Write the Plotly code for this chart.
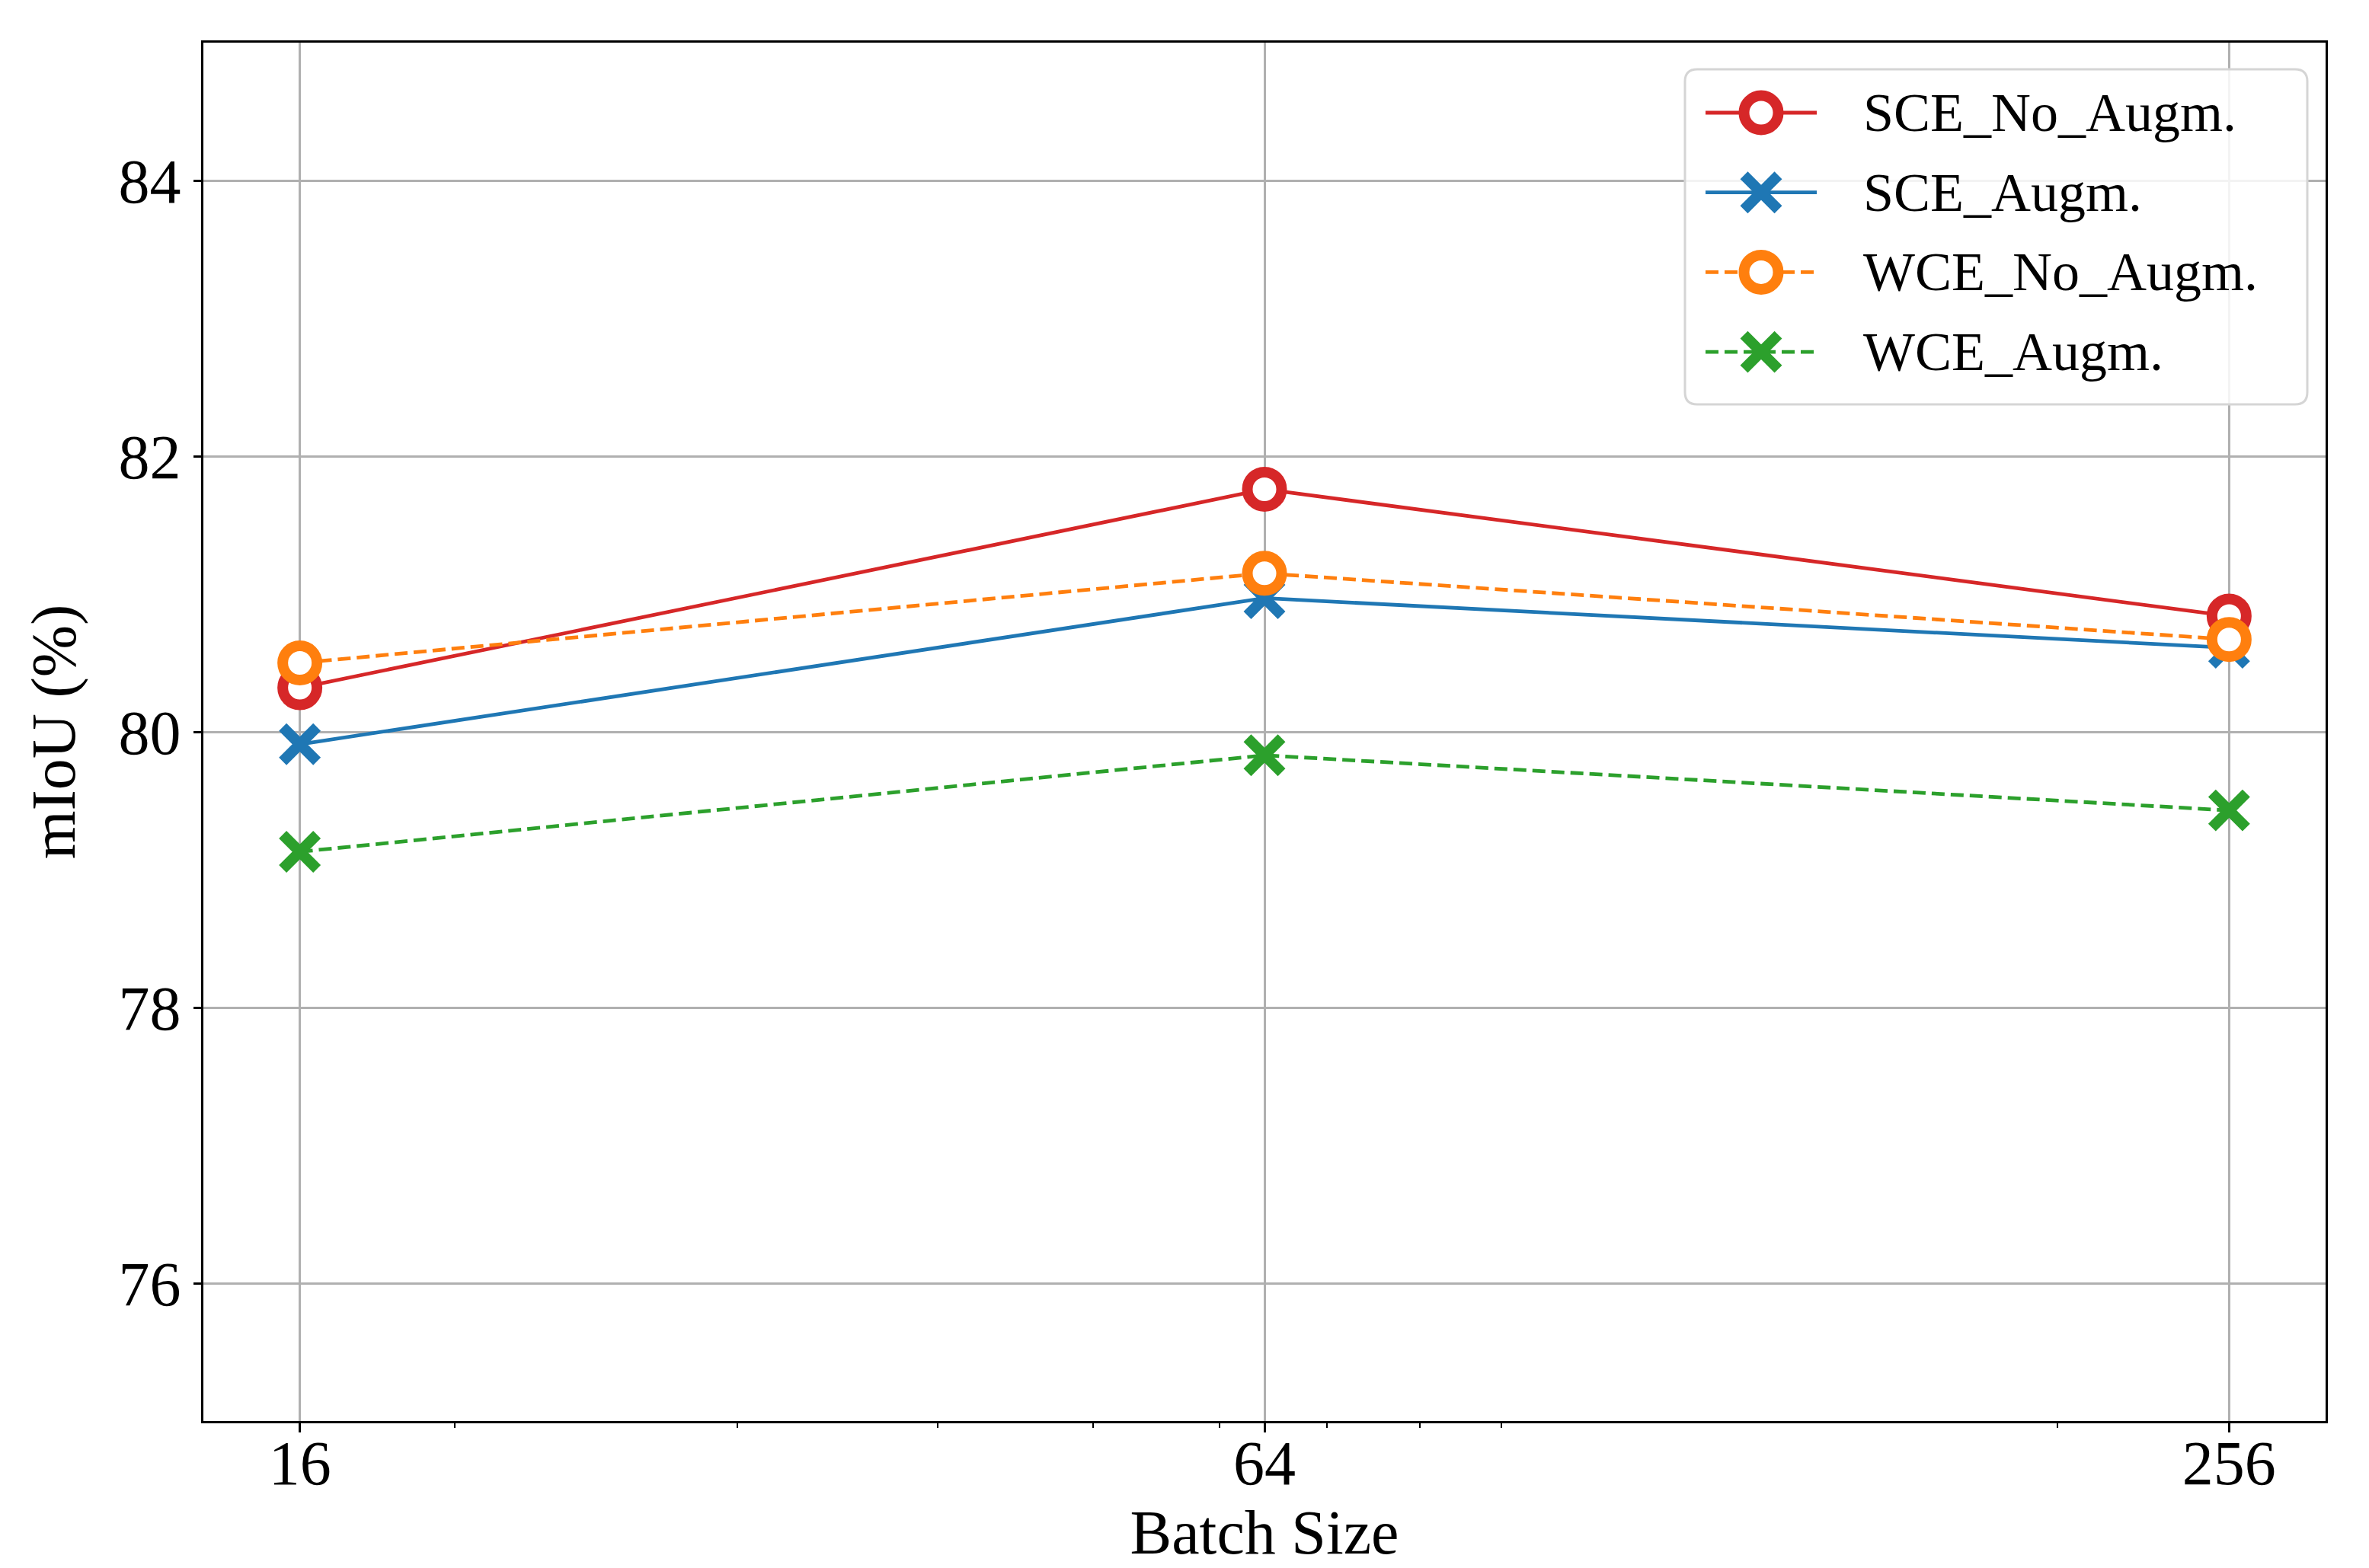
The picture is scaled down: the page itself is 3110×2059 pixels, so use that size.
import math
import plotly.graph_objects as go

# ---------------- data ----------------
batch_sizes = [16, 64, 256]
x_tick_labels = ["16", "64", "256"]
x_minor_ticks = [20, 30, 40, 50, 60, 70, 80, 90, 200]
y_tick_values = [76, 78, 80, 82, 84]

series_names = ["SCE_No_Augm.", "SCE_Augm.", "WCE_No_Augm.", "WCE_Augm."]
sce_no_augm = [80.32, 81.76, 80.84]
sce_augm = [79.91, 80.97, 80.61]
wce_no_augm = [80.50, 81.15, 80.67]
wce_augm = [79.13, 79.83, 79.43]
series_values = [sce_no_augm, sce_augm, wce_no_augm, wce_augm]

colors = ["#d62728", "#1f77b4", "#ff7f0e", "#2ca02c"]
marker_kinds = ["circle", "x", "circle", "x"]
dashes = ["solid", "solid", "17px,8px", "17px,8px"]

# ---------------- layout constants ----------------
W, H = 3110, 2059
L, R, T, B = 259, 65, 48, 201
PW, PH = W - L - R, H - T - B
FONT = "Liberation Serif, Times New Roman, serif"
MS = 45      # marker size
MLW = 14     # marker edge width
LW = 4.8     # line width


def px_x(px):
    return (px - L) / PW


def px_y(py):
    return (H - B - py) / PH


fig = go.Figure()

for name, vals, c, mk, d in zip(series_names, series_values, colors, marker_kinds, dashes):
    if mk == "circle":
        marker = dict(symbol="circle", size=MS, color="white",
                      line=dict(color=c, width=MLW))
    else:
        marker = dict(symbol="x-thin", size=MS, color=c,
                      line=dict(color=c, width=MLW))
    fig.add_trace(go.Scatter(
        x=batch_sizes, y=vals, name=name, mode="lines+markers",
        line=dict(color=c, width=LW, dash=d),
        marker=marker, showlegend=False,
    ))

# ---------------- custom legend (layout decoration) ----------------
shapes = []
annotations = []
box_l, box_r, box_t, box_b = 2204, 3021, 83, 523
bw, bh, rr = (box_r - box_l) / 2, (box_b - box_t) / 2, 16
box_path = (f"M{-bw + rr},{-bh} H{bw - rr} Q{bw},{-bh} {bw},{-bh + rr} "
            f"V{bh - rr} Q{bw},{bh} {bw - rr},{bh} H{-bw + rr} "
            f"Q{-bw},{bh} {-bw},{bh - rr} V{-bh + rr} Q{-bw},{-bh} {-bw + rr},{-bh} Z")
shapes.append(dict(
    type="path", xref="paper", yref="paper", xsizemode="pixel", ysizemode="pixel",
    xanchor=px_x((box_l + box_r) / 2), yanchor=px_y((box_t + box_b) / 2),
    path=box_path, line=dict(color="#d5d5d5", width=3),
    fillcolor="rgba(255,255,255,0.85)", layer="above",
))

entry_y0, entry_step = 140, 104.7
line_x0, line_x1 = 2231, 2377
text_x = 2436
half = MS / 2
for i, (name, c, mk, d) in enumerate(zip(series_names, colors, marker_kinds, dashes)):
    yy = px_y(entry_y0 + i * entry_step)
    shapes.append(dict(type="line", xref="paper", yref="paper",
                       x0=px_x(line_x0), x1=px_x(line_x1), y0=yy, y1=yy,
                       line=dict(color=c, width=LW, dash=d), layer="above"))
    xc = px_x((line_x0 + line_x1) / 2)
    if mk == "circle":
        shapes.append(dict(type="circle", xref="paper", yref="paper",
                           xsizemode="pixel", ysizemode="pixel", xanchor=xc, yanchor=yy,
                           x0=-half, x1=half, y0=-half, y1=half,
                           line=dict(color=c, width=MLW), fillcolor="white", layer="above"))
    else:
        shapes.append(dict(type="path", xref="paper", yref="paper",
                           xsizemode="pixel", ysizemode="pixel", xanchor=xc, yanchor=yy,
                           path=f"M{-half},{-half} L{half},{half} M{-half},{half} L{half},{-half}",
                           line=dict(color=c, width=MLW), layer="above"))
    annotations.append(dict(text=name, xref="paper", yref="paper", x=px_x(text_x), y=yy,
                            xanchor="left", yanchor="middle", showarrow=False,
                            font=dict(family=FONT, size=72, color="black")))

xr = [math.log10(2 ** 3.8), math.log10(2 ** 8.2)]

fig.update_layout(
    width=W, height=H,
    margin=dict(l=L, r=R, t=T, b=B, autoexpand=False),
    paper_bgcolor="white", plot_bgcolor="white",
    font=dict(family=FONT, size=82, color="black"),
    shapes=shapes, annotations=annotations,
    xaxis=dict(
        type="log", range=xr,
        tickmode="array", tickvals=batch_sizes, ticktext=x_tick_labels,
        ticks="outside", ticklen=12, tickwidth=3, tickcolor="black",
        ticklabelstandoff=-30,
        showline=True, linewidth=3, linecolor="black", mirror=True,
        showgrid=True, gridcolor="#b0b0b0", gridwidth=2.5, zeroline=False,
        tickfont=dict(family=FONT, size=82),
        title=dict(text="Batch Size", font=dict(family=FONT, size=82), standoff=0),
        minor=dict(tickmode="array", tickvals=x_minor_ticks, ticks="outside",
                   ticklen=6, tickwidth=2, tickcolor="black", showgrid=False),
        automargin=False,
    ),
    yaxis=dict(
        range=[75, 85], tickmode="array", tickvals=y_tick_values,
        ticks="outside", ticklen=10, tickwidth=3, tickcolor="black",
        showline=True, linewidth=3, linecolor="black", mirror=True,
        showgrid=True, gridcolor="#b0b0b0", gridwidth=2.5, zeroline=False,
        tickfont=dict(family=FONT, size=82),
        title=dict(text="mIoU (%)", font=dict(family=FONT, size=82), standoff=30),
        automargin=False,
    ),
)

fig.write_html("out.html")
